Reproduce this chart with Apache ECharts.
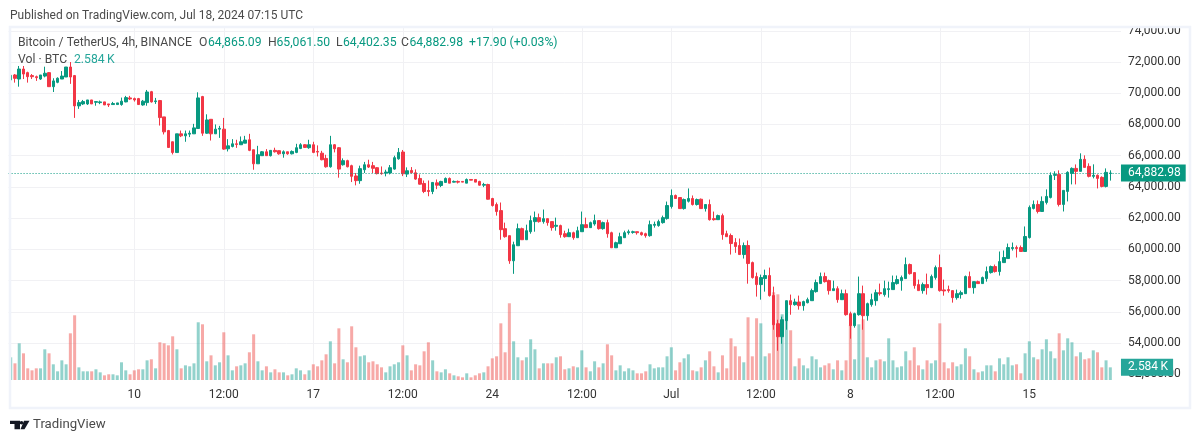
<!DOCTYPE html>
<html>
<head>
<meta charset="utf-8">
<style>
  html, body { margin: 0; padding: 0; background: #fff; }
  #main { width: 1200px; height: 443px; }
</style>
<script src="https://cdn.jsdelivr.net/npm/echarts@6/dist/echarts.min.js"></script>
</head>
<body>
<div id="main"></div>
<script>
// BTCUSDT 4h bars, Jun 5 04:00 to Jul 18 04:00: [open, close, low, high]
const ohlc = [
  [70850,71150,70800,71200],[71170,70955,70680,71230],[70910,71550,70420,71745],[71550,71230,70910,71745],[71320,71060,70680,71380],
  [71130,71060,70910,71230],[71060,71000,70790,71130],[70910,71170,70850,71170],[71100,71280,71020,71700],[71320,70420,70400,71360],
  [70420,70790,70080,70960],[70700,70960,70640,71020],[70910,71100,70910,71420],[71040,71680,71040,71680],[71680,71040,70600,72000],
  [71130,69190,68420,71170],[69190,69400,69000,69570],[69315,69465,69250,69570],[69315,69570,69250,69570],[69570,69315,69315,69570],
  [69420,69465,69200,69500],[69400,69445,69300,69530],[69445,69250,69250,69445],[69315,69250,69120,69315],[69275,69340,69275,69445],
  [69275,69380,69275,69380],[69275,69490,69200,69720],[69445,69720,69420,69830],[69700,69635,69570,69830],[69655,69570,69465,69720],
  [69655,69275,69250,69700],[69250,69490,69200,69570],[69400,70080,69200,70210],[70100,69445,69400,70150],[69465,69510,69315,69700],
  [69530,68440,67930,69570],[68485,67525,67360,68485],[67610,66525,66500,67650],[66890,66205,66080,66900],[66200,67400,66200,67400],
  [67400,67270,67190,67610],[67270,67400,66890,67610],[67380,67440,67190,67610],[67400,67780,67400,68040],[67740,69700,67740,70060],
  [69785,67440,67270,69830],[67440,68290,67400,68650],[68330,67400,66970,68330],[67400,67700,67400,68000],[67700,67750,67140,67910],
  [67700,66420,66380,68420],[66440,66630,66270,67060],[66590,66760,66530,67060],[66760,66720,66500,67020],[66700,66890,66700,67230],
  [66800,67000,66800,67270],[67020,66340,66290,67400],[66380,65480,65100,66380],[65480,66060,65480,66630],[66000,66250,66000,66300],
  [66250,66000,66000,66420],[66000,66340,65950,66340],[66340,66250,66200,66510],[66320,66120,66060,66340],[66120,66250,65870,66340],
  [66250,66120,66060,66250],[66120,66270,66080,66340],[66210,66510,66160,66760],[66460,66700,66420,66800],[66700,66530,66490,66740],
  [66510,66700,66440,67020],[66700,66210,66160,66890],[66270,66230,65950,66660],[66160,65740,65700,66310],[65825,65290,65230,66060],
  [65290,66700,65230,67270],[66700,66440,66210,66740],[66510,65140,64590,66550],[65420,65680,65360,65825],[65680,65290,65250,65740],
  [65360,64675,64310,65420],[64700,64400,64100,64890],[64400,65170,64200,65360],[65100,65420,64890,65600],[65420,65270,65210,65740],
  [65360,65190,64890,65600],[65230,64850,64800,65270],[64890,64850,64780,65310],[64890,64950,64675,65100],[64890,65230,64800,65400],
  [65140,65870,65100,66000],[65800,66210,65740,66490],[66235,64840,64690,66365],[64820,65035,64630,65250],[65055,64905,64860,65270],
  [64905,64500,64455,65120],[64540,64175,64155,64800],[64220,63705,63600,64410],[63770,63705,63400,64410],[63705,64285,63535,64305],
  [64260,64110,63855,64475],[64090,64350,63985,64390],[64285,64540,64285,64605],[64540,64240,64240,64605],[64305,64350,64285,64410],
  [64350,64305,64220,64410],[64350,64305,64305,64350],[64240,64475,64240,64540],[64475,64430,64430,64475],[64475,64305,64305,64475],
  [64350,64110,64090,64390],[64110,64155,63985,64260],[64155,63210,63190,64200],[63255,62805,62740,63300],[62870,62420,62160,63000],
  [62480,61260,60615,63000],[61325,60810,60745,61710],[60875,59265,59070,60875],[59265,60295,58430,60490],[60230,61325,60230,61650],
  [61325,60615,60615,61390],[60615,61195,60615,61580],[61130,61840,61000,62160],[61775,62030,61130,62420],[62030,61775,61710,62290],
  [61775,61965,61645,62550],[61965,61710,61515,61965],[61775,61390,61195,61775],[61475,61540,61195,62030],[61520,60940,60745,61580],
  [61000,60810,60745,61195],[60810,61065,60810,61325],[61065,60745,60615,61130],[60745,61195,60745,61450],[61130,61580,61130,62420],
  [61580,61390,61390,62030],[61390,61710,61390,61775],[61625,61840,61515,62225],[61840,61325,61260,61840],[61325,61710,61260,61775],
  [61710,61000,60745,61900],[61065,60100,60100,61130],[60100,60425,60100,60490],[60360,60810,60360,61065],[60745,61065,60745,61195],
  [61065,61130,60940,61260],[61085,61130,61000,61195],[61130,61065,60940,61130],[61065,60940,60875,61130],[61000,60875,60745,61065],
  [60875,61580,60810,61840],[61540,61600,61390,61775],[61520,61775,61450,61900],[61710,62030,61645,62160],[61970,62805,61900,63060],
  [62740,63450,62610,63835],[63450,63255,63255,63510],[63320,62610,62610,63320],[62610,63190,62545,63255],[63080,63255,63000,63900],
  [63255,62870,62805,63450],[62870,63190,62805,63255],[63210,62610,62610,63255],[62610,62870,62420,62870],[62870,61900,61840,63190],
  [61965,61900,61840,62420],[61900,62160,61900,62225],[62160,60940,60615,62290],[61000,60810,60810,61195],[60885,60370,59665,61010],
  [60435,60180,59775,60715],[60245,59665,59665,60690],[59665,60245,59410,60435],[60245,59090,57800,60565],[59150,58190,58125,59215],
  [58255,57740,56970,58510],[57740,58190,56775,58380],[58125,58320,57290,58700],[58320,57035,56970,58830],[57035,55170,54850,57610],
  [55235,54400,53500,55490],[54400,55490,53950,55685],[55430,56710,54850,56710],[56710,56455,55810,57100],[56455,56625,56390,56840],
  [56625,56390,56135,57035],[56390,56650,56070,56710],[56580,56775,56540,56905],[56710,57355,56710,57480],[57290,57870,57225,58060],
  [57805,58255,57805,58510],[58255,57930,57870,58510],[57995,57355,57100,58060],[57355,57480,57355,57995],[57480,56775,56580,57630],
  [56775,57160,56775,57420],[57160,55815,55750,57420],[55880,55110,54275,56005],[55110,55880,54980,55940],[55815,57160,55750,58255],
  [57160,55750,54850,57675],[55750,56520,55430,56585],[56455,56775,56325,57160],[56710,57225,56390,57420],[57225,57160,57035,57805],
  [57100,57480,56970,57995],[57420,57480,56905,57930],[57420,57870,57420,58320],[57805,58060,57740,58320],[57995,58190,57350,58320],
  [58125,59025,58125,59475],[59025,58445,58380,59090],[58510,57675,57480,58510],[57740,57355,57355,58060],[57355,57740,57160,57870],
  [57740,57545,57100,58445],[57545,58255,57545,58380],[58190,58830,58060,58960],[58830,57355,57290,59665],[57400,57335,57030,58060],
  [57420,57355,57225,57675],[57355,56905,56585,57355],[56905,57160,56775,57420],[57100,57225,56840,57355],[57160,58255,57160,58320],
  [58255,57545,57545,58575],[57545,57930,57160,57930],[57930,57805,57805,57995],[57805,58190,57805,58255],[58125,58575,57930,58895],
  [58510,58895,58445,58960],[58895,58575,58510,59025],[58575,59215,58320,59860],[59150,59475,59150,59925],[59410,60115,59410,60370],
  [60050,60115,59920,60435],[60115,60050,59475,60245],[60115,59860,59860,60245],[59860,60820,59860,61465],[60755,62685,60690,62810],
  [62620,62875,62555,63130],[62875,62425,62300,63130],[62425,63070,62425,63390],[63005,63390,62875,63840],[63325,64740,63260,64930],
  [64740,64800,64440,65000],[64800,62875,62745,65060],[62875,63775,62425,63775],[63710,64930,63070,65000],[64865,65185,64160,65250],
  [65185,64995,64160,65440],[64995,65765,64995,66150],[65765,65250,65250,66020],[65315,64675,64610,65510],[64675,64740,64545,65445],
  [64740,64545,63900,64800],[64610,64030,63970,64675],[64030,64930,63965,65185],[64865.09,64882.98,64402.35,65061.5]
];

// volume in thousands of BTC
const volumes = [
  4.63,3.4,7.48,5.44,2.38,1.97,2.38,2.38,6.26,5.44,
  3.2,1.77,4.01,3.2,9.52,13.2,2.58,1.77,1.77,1.77,
  2.18,1.56,0.95,1.16,1.16,0.95,3.61,1.97,1.16,1.97,
  2.18,2.18,4.01,4.22,2.38,7.69,7.48,7.07,8.91,6.26,
  2.38,2.99,2.79,3.4,11.77,11.36,3.81,5.03,2.99,3.61,
  9.73,5.03,1.97,2.79,2.99,3.4,5.65,9.32,3.81,1.97,
  2.79,1.56,2.18,1.56,1.56,0.95,1.16,2.38,1.97,1.16,
  1.97,3.2,2.79,4.01,5.24,7.89,3.4,10.54,4.22,3.61,
  10.95,6.67,4.83,5.03,3.61,3.81,3.2,2.58,1.56,2.79,
  3.2,3.61,7.07,5.03,1.97,3.2,2.99,5.85,7.69,4.01,
  1.77,1.56,2.18,1.36,0.95,0.75,0.54,1.36,0.54,0.95,
  1.36,1.56,2.79,4.42,4.83,11.56,5.65,15.65,7.89,4.63,
  4.01,4.63,8.3,6.26,2.38,3.4,3.4,3.4,4.63,4.83,
  2.18,2.38,2.79,2.58,6.05,2.58,1.77,3.81,2.58,3.4,
  7.28,5.03,1.97,2.99,1.77,2.38,1.97,1.36,1.36,1.77,
  3.2,2.38,2.58,2.58,4.83,6.67,1.97,3.61,4.42,5.24,
  1.97,1.77,2.58,4.01,5.85,2.79,1.56,5.03,2.38,8.5,
  6.87,4.83,3.61,12.79,4.83,12.59,11.56,4.83,5.44,17.89,
  17.48,13.4,12.38,10.14,2.79,4.42,2.99,2.38,4.83,4.22,
  2.58,2.99,3.4,2.18,4.01,1.97,4.01,11.22,4.22,11.36,
  12.38,4.63,2.58,4.01,4.22,3.81,8.5,4.01,2.58,2.79,
  5.85,4.01,6.67,2.99,2.18,4.01,3.4,4.01,11.56,3.61,
  2.38,3.61,2.79,3.2,6.46,4.83,2.18,1.56,1.77,2.99,
  2.99,1.77,4.42,3.2,4.63,2.99,3.2,1.36,5.44,7.89,
  4.63,4.22,6.26,8.3,5.85,4.42,9.52,6.05,8.5,7.69,
  4.83,5.65,4.22,4.42,6.05,5.65,2.58,4.01,2.584
];

// time axis: bar index -> label
const tickBars = [29, 50, 71, 92, 113, 134, 155, 176, 197, 218, 239];
const tickLabels = ['10', '12:00', '17', '12:00', '24', '12:00', 'Jul', '12:00', '8', '12:00', '15'];
const BLANK_BARS = 2; // empty room right of the last bar

const lastClose = 64882.98;
const lastVolume = 2.584;

const UP = '#089981';
const DOWN = '#f23645';
const VOL_UP = 'rgba(38,166,154,0.5)';
const VOL_DOWN = 'rgba(239,83,80,0.5)';
const GRID = '#f1f1f4';
const TEXT = '#333';
const MUTED = '#4a4a4a';
const FONT = 'Roboto';
const LEGEND_FONT = '12.2px ' + FONT;

const categories = [];
for (let i = 0; i < ohlc.length + BLANK_BARS; i++) {
  const t = tickBars.indexOf(i);
  categories.push(t >= 0 ? tickLabels[t] : ' ' + i);
}
const isTick = (i) => tickBars.indexOf(i) >= 0;

const gridLeft = 8.57, gridWidth = 1112.4;

const volumeData = volumes.map((v, i) => ({
  value: v,
  itemStyle: { color: ohlc[i][1] >= ohlc[i][0] ? VOL_UP : VOL_DOWN }
}));

// first split line (52,000) is not drawn in the original
const splitColors = [];
for (let i = 0; i < 12; i++) splitColors.push(i === 0 ? 'transparent' : GRID);

// legend pieces on the first row: text, x, colour
const legendRow = [
  ['Bitcoin / TetherUS, 4h, BINANCE', 18, MUTED],
  ['O', 199, MUTED], ['64,865.09', 208, UP],
  ['H', 268, MUTED], ['65,061.50', 276.5, UP],
  ['L', 336, MUTED], ['64,402.35', 343, UP],
  ['C', 401, MUTED], ['64,882.98', 409.5, UP],
  ['+17.90 (+0.03%)', 469, UP]
];

const legendText = (text, x, y, fill) => ({
  type: 'text', z: 92, silent: true, x: x, y: y,
  style: { text: text, fill: fill, font: LEGEND_FONT }
});

const chart = echarts.init(document.getElementById('main'), null, { renderer: 'canvas' });

chart.setOption({
  animation: false,
  backgroundColor: '#fff',
  textStyle: { fontFamily: FONT },
  grid: [
    { left: gridLeft, width: gridWidth, top: 30.8, height: 343.4 }, // price
    { left: gridLeft, width: gridWidth, top: 27, height: 353 }      // volume + time
  ],
  xAxis: [
    { type: 'category', gridIndex: 0, data: categories, show: false },
    {
      type: 'category', gridIndex: 1, data: categories,
      axisLine: { show: false }, axisTick: { show: false },
      axisLabel: {
        interval: (i) => isTick(i), color: TEXT, fontSize: 12, fontFamily: FONT, margin: 9
      },
      splitLine: {
        show: true, interval: (i) => isTick(i), alignWithLabel: true,
        lineStyle: { color: GRID, width: 1 }
      }
    }
  ],
  yAxis: [
    {
      type: 'value', gridIndex: 0, position: 'right', min: 52000, max: 74000, interval: 2000,
      axisLine: { show: false }, axisTick: { show: false },
      axisLabel: {
        color: TEXT, fontSize: 12, fontFamily: FONT, margin: 7, padding: [2, 0, 0, 0],
        formatter: (v) => v.toLocaleString('en-US', { minimumFractionDigits: 2 })
      },
      splitLine: { lineStyle: { color: splitColors, width: 1 } }
    },
    {
      type: 'value', gridIndex: 1, min: 0, max: 72, show: false
    }
  ],
  series: [
    {
      name: 'Vol', type: 'bar', xAxisIndex: 1, yAxisIndex: 1, z: 1,
      data: volumeData, barWidth: 3, silent: true,
      markLine: {
        silent: true, symbol: 'none', animation: false, z: 6,
        lineStyle: { color: 'transparent', width: 1 },
        label: {
          position: 'end', distance: 0, color: '#fff', backgroundColor: '#26a69a',
          fontSize: 12, fontFamily: FONT, padding: [3, 5, 2, 7],
          formatter: () => lastVolume.toFixed(3) + '\u2009K'
        },
        data: [{ yAxis: lastVolume }]
      }
    },
    {
      name: 'BTCUSDT', type: 'candlestick', xAxisIndex: 0, yAxisIndex: 0, z: 2,
      data: ohlc, barWidth: 3, silent: true,
      itemStyle: { color: UP, color0: DOWN, borderColor: UP, borderColor0: DOWN, borderWidth: 1 },
      markLine: {
        silent: true, symbol: 'none', animation: false, z: 5,
        lineStyle: { color: UP, type: [1, 2], width: 1 },
        label: {
          position: 'end', distance: 0, color: '#fff', backgroundColor: UP,
          fontSize: 12, fontFamily: FONT, padding: [3, 5, 2, 7],
          formatter: () => lastClose.toLocaleString('en-US', { minimumFractionDigits: 2 })
        },
        data: [{ yAxis: lastClose }]
      }
    }
  ],
  graphic: [
    // clips the top label against the frame
    { type: 'rect', z: 90, silent: true, shape: { x: 1122, y: 21, width: 66, height: 6 }, style: { fill: '#fff' } },
    { type: 'rect', z: 91, silent: true, shape: { x: 10, y: 27, width: 1180, height: 381 },
      style: { fill: 'none', stroke: '#f0f3fa', lineWidth: 2.5 } },
    { type: 'text', z: 92, silent: true, x: 10, y: 10,
      style: { text: 'Published on TradingView.com, Jul 18, 2024 07:15 UTC', fill: MUTED, font: '12px ' + FONT } }
  ].concat(legendRow.map((p) => legendText(p[0], p[1], 37, p[2])), [
    legendText('Vol \u00b7 BTC', 18, 54, MUTED),
    legendText('2.584\u2009K', 74, 54, '#26a69a'),
    // TradingView mark
    { type: 'polygon', z: 92, silent: true, shape: { points: [[10, 420.7], [20, 420.7], [20, 429.3], [14.5, 429.3], [14.5, 424], [10, 424]] }, style: { fill: '#131722' } },
    { type: 'circle', z: 92, silent: true, shape: { cx: 21.5, cy: 422.7, r: 1.8 }, style: { fill: '#131722' } },
    { type: 'polygon', z: 92, silent: true, shape: { points: [[24, 420.7], [29.5, 420.7], [24.5, 429.3], [20.5, 429.3]] }, style: { fill: '#131722' } },
    { type: 'text', z: 92, silent: true, x: 33, y: 418.5,
      style: { text: 'TradingView', fill: MUTED, font: '13.2px ' + FONT } }
  ])
});
</script>
</body>
</html>
